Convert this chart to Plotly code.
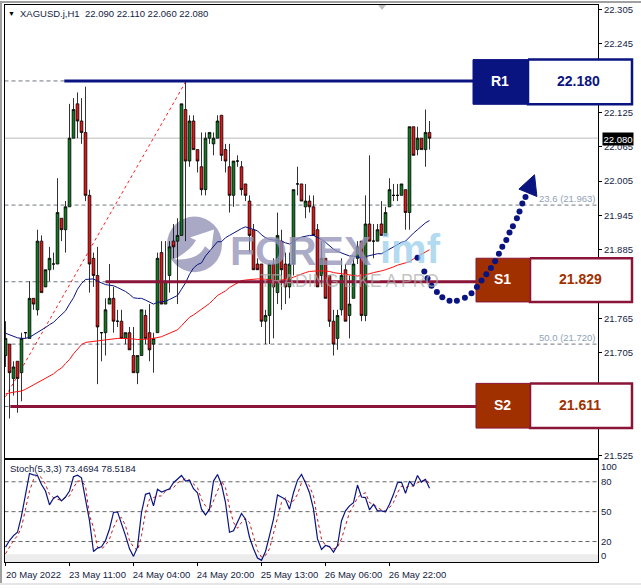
#! /usr/bin/env python
"""XAGUSD H1 chart with stochastic panel and support / resistance boxes."""

import plotly.graph_objects as go

W = 641
H = 588

# Candles, one per hour bar
opens = [21.70,21.72,21.66,21.69,21.67,21.74,21.73,21.80,21.78,21.90,
         21.82,21.85,21.86,21.86,21.94,21.92,21.96,22.08,22.14,22.11,
         22.09,21.98,21.87,21.84,21.74,21.74,21.79,21.80,21.76,21.76,
         21.73,21.74,21.70,21.67,21.70,21.77,21.74,21.72,21.74,21.88,
         21.79,21.84,21.90,21.90,21.91,22.13,22.04,22.11,22.06,22.03,
         21.99,22.08,22.07,22.08,22.12,22.06,22.03,21.98,22.04,22.03,
         22.00,21.97,21.92,21.86,21.86,21.76,21.77,21.86,21.81,21.90,
         21.86,21.82,21.86,22.00,22.00,21.96,21.97,21.96,21.92,21.84,
         21.87,21.84,21.76,21.73,21.78,21.85,21.77,21.80,21.87,21.90,
         21.77,21.93,21.90,21.90,21.93,21.91,21.96,21.98,21.98,21.98,
         21.99,21.95,22.10,22.06,22.08,22.06,22.09]
highs = [21.76,21.72,21.69,21.69,21.74,21.74,21.83,21.80,21.92,21.91,
         21.85,21.89,21.88,22.01,21.94,21.97,22.14,22.15,22.16,22.15,
         22.17,21.99,21.88,21.89,21.74,21.80,21.86,21.82,21.78,21.78,
         21.74,21.75,21.75,21.70,21.78,21.78,21.79,21.74,21.88,21.90,
         21.90,21.90,21.93,21.94,22.14,22.18,22.12,22.12,22.06,22.09,
         22.09,22.09,22.09,22.12,22.12,22.07,22.07,22.04,22.05,22.04,
         22.00,21.98,21.93,21.87,21.86,21.78,21.86,21.87,21.95,21.92,
         21.88,21.88,21.99,22.03,22.00,22.00,21.98,21.98,21.93,21.90,
         21.87,21.84,21.78,21.78,21.87,21.86,21.84,21.87,21.90,21.90,
         21.98,22.05,21.93,21.93,21.97,21.96,22.01,22.00,22.00,22.00,
         21.99,22.10,22.10,22.10,22.08,22.13,22.11]
lows = [21.68,21.59,21.63,21.60,21.62,21.73,21.73,21.78,21.77,21.81,
        21.82,21.83,21.85,21.86,21.90,21.88,21.96,22.08,22.08,22.07,
        21.97,21.81,21.82,21.65,21.69,21.70,21.79,21.74,21.75,21.73,
        21.72,21.71,21.67,21.65,21.70,21.72,21.69,21.67,21.74,21.79,
        21.79,21.81,21.87,21.79,21.91,21.90,22.03,22.06,22.02,21.98,
        21.98,22.07,22.05,22.08,22.04,22.02,21.95,21.96,22.03,21.98,
        21.97,21.88,21.85,21.85,21.75,21.72,21.72,21.73,21.79,21.78,
        21.79,21.80,21.84,21.98,21.97,21.94,21.95,21.91,21.82,21.82,
        21.80,21.75,21.70,21.71,21.77,21.76,21.73,21.80,21.86,21.76,
        21.76,21.90,21.87,21.90,21.91,21.91,21.96,21.97,21.97,21.98,
        21.92,21.92,22.05,22.05,22.06,22.03,22.06]
closes = [21.73,21.67,21.68,21.66,21.73,21.74,21.80,21.79,21.90,21.81,
          21.85,21.87,21.86,21.95,21.92,21.96,22.08,22.13,22.11,22.09,
          21.98,21.86,21.84,21.75,21.74,21.78,21.80,21.76,21.76,21.73,
          21.74,21.71,21.67,21.70,21.78,21.73,21.71,21.73,21.87,21.79,
          21.83,21.89,21.89,21.91,22.14,22.04,22.11,22.06,22.04,21.99,
          22.08,22.09,22.08,22.11,22.05,22.04,21.98,22.04,22.04,21.99,
          21.98,21.91,21.85,21.85,21.76,21.77,21.86,21.82,21.91,21.85,
          21.82,21.86,21.99,22.00,21.97,21.97,21.96,21.91,21.82,21.87,
          21.80,21.76,21.72,21.77,21.84,21.76,21.79,21.86,21.89,21.77,
          21.93,21.90,21.90,21.92,21.91,21.95,21.99,21.98,21.98,22.00,
          21.95,22.10,22.05,22.08,22.06,22.09,22.08]

# Moving averages
ma_blue = [21.739,21.736,21.733,21.731,21.730,21.730,21.732,21.736,21.741,21.745,
           21.749,21.754,21.758,21.765,21.771,21.778,21.790,21.801,21.816,21.826,
           21.833,21.834,21.834,21.830,21.827,21.824,21.823,21.822,21.819,21.816,
           21.812,21.807,21.801,21.800,21.800,21.797,21.793,21.790,21.793,21.794,
           21.795,21.798,21.801,21.805,21.816,21.827,21.842,21.853,21.859,21.862,
           21.874,21.882,21.891,21.899,
           21.899,21.906,21.910,21.914,21.919,21.922,21.925,21.923,21.921,21.918,
           21.911,21.906,21.903,21.902,21.902,21.900,21.897,21.895,21.899,21.904,
           21.907,21.909,21.910,21.910,21.907,21.903,21.898,21.892,21.886,21.882,
           21.879,21.877,21.874,21.874,21.873,21.871,21.873,21.875,21.877,21.878,
           21.878,21.882,21.886,21.891,21.895,21.898,21.900,21.908,21.914,21.920,
           21.926,21.932,21.936]
ma_red = [21.633,21.635,21.636,21.637,21.638,21.641,21.645,21.649,21.653,21.656,
          21.660,21.664,21.668,21.674,21.678,21.686,21.693,21.703,21.712,21.719,
          21.723,21.724,21.725,21.725,21.727,21.728,21.729,21.730,21.730,21.730,
          21.730,21.730,21.729,21.728,21.728,21.728,21.729,21.730,21.731,21.733,
          21.736,21.739,21.742,21.745,21.752,21.759,21.767,21.771,21.776,21.781,
          21.786,21.791,21.798,21.805,
          21.809,21.813,21.819,21.823,21.827,21.831,21.832,21.833,21.833,21.834,
          21.834,21.833,21.833,21.832,21.831,21.832,21.833,21.834,21.837,21.840,
          21.843,21.845,21.847,21.848,21.848,21.848,21.848,21.847,21.845,21.844,
          21.842,21.841,21.840,21.839,21.839,21.840,21.841,21.843,21.845,21.846,
          21.848,21.850,21.852,21.855,21.858,21.860,21.862,21.864,21.869,21.873,
          21.878,21.882,21.885]

# Stochastic (5,3,3)
stoch_main = [14.4,21.0,25.9,29.3,45.8,69.0,88.3,87.0,86.3,77.3,
              70.7,56.8,63.4,65.7,60.8,64.7,70.7,85.0,86.6,84.0,
              64.1,40.9,10.0,13.4,14.7,21.0,32.6,49.2,49.8,38.6,
              25.9,12.7,5.1,14.4,49.2,67.4,68.7,55.8,72.4,69.7,
              71.4,73.0,79.0,83.0,86.3,80.7,81.6,73.0,69.0,52.5,
              46.8,52.5,80.7,87.3,77.3,59.1,29.3,30.9,39.2,48.2,
              42.5,24.3,12.7,3.4,1.1,10.0,25.9,42.5,66.7,64.7,
              62.4,52.5,69.0,81.6,87.3,79.0,69.0,52.5,22.6,
              12.0,16.0,15.0,9.4,16.0,40.9,50.8,55.8,59.1,76.7,
              64.7,64.1,51.8,57.4,50.8,50.8,49.8,57.4,67.4,79.0,
              79.7,68.4,80.7,75.7,86.3,79.7,82.3,73.47]
stoch_signal = [7.7,14.4,21.0,25.9,34.2,52.5,70.7,82.3,87.3,84.0,
                77.3,67.4,64.1,62.4,61.4,64.1,65.7,74.0,80.7,80.7,
                75.7,45.8,34.2,14.4,12.7,16.0,22.6,34.2,42.5,44.2,
                35.9,21.0,14.4,11.0,25.9,49.2,62.4,64.1,65.7,65.7,
                70.7,72.4,74.0,79.0,80.7,83.0,81.6,77.3,74.0,62.4,
                55.8,50.8,60.8,72.4,80.7,74.0,54.1,39.2,33.3,39.2,
                43.2,39.2,24.3,11.0,4.4,6.1,12.7,27.6,44.2,59.1,
                64.1,59.1,60.8,67.4,79.0,80.7,75.7,65.7,42.5,
                22.6,16.0,14.4,12.7,14.4,22.6,35.9,49.2,55.8,64.1,
                67.4,69.0,59.1,57.4,54.1,51.8,50.8,54.1,59.1,69.0,
                75.7,74.0,75.7,75.7,79.0,80.7,82.3,78.52]

# Fibonacci levels and drawn levels
fibo_levels = [22.180, 21.963, 21.829, 21.720, 21.611]
fibo_labels = ["23.6 (21.963)", "50.0 (21.720)"]
last_price = 22.080
trend_x = [0, 45]
trend_y = [21.628, 22.178]

r1 = 22.180
s1 = 21.829
s2 = 21.611

# Dotted forecast arrow
arrow_x = [103.0,104.7,105.5,106.5,107.85,109.2,111.0,112.85,114.85,116.5,117.85,119.0,
           120.2,121.35,122.4,123.35,124.2,125.2,126.0,126.85,127.85,128.5,129.2,130.0]
arrow_y = [21.871,21.847,21.835,21.822,21.811,21.802,21.796,21.796,21.801,21.809,21.820,21.831,
           21.842,21.853,21.865,21.878,21.890,21.902,21.915,21.926,21.940,21.952,21.966,21.977]
head_x = [132.25,128.35,132.85,132.25]
head_y = [22.016,21.991,21.978,22.016]

# Axis ticks
price_ticks = [22.305,22.245,22.185,22.125,22.065,22.005,21.945,21.885,21.825,21.765,21.705,21.645,21.585,21.525]
price_labels = ["22.305","22.245","22.185","22.125","22.065","22.005","21.945","21.885","21.825","21.765","21.705","21.645","21.585","21.525"]
stoch_tick_pos = [95, 80, 50, 20, 6]
stoch_tick_labels = ["100", "80", "50", "20", "0"]
stoch_levels = [80, 50, 20]
time_ticks = [0, 16, 32, 48, 64, 80, 96]
time_labels = ["20 May 2022", "23 May 11:00", "24 May 04:00", "24 May 20:00", "25 May 13:00", "26 May 06:00", "26 May 22:00"]

bars = list(range(len(closes)))

FONT = "Liberation Sans"
NAVY = "#0a1480"
CRIMSON = "#8a1538"
RUST = "#a03000"
TEXT = "#14233f"

# bar 0 sits on pixel column 5.5 and bars are 4 px apart, price scale is 576 px per unit
X0 = 5.5
BAR = 4.0
PRICE_TOP = 22.305
TOP_Y = 8.5
PX_PER_UNIT = 576.0


def px(x):
    return x / W


def py(y):
    return 1 - y / H


def bar_at(x):
    return (x - X0) / BAR


def price_at(y):
    return PRICE_TOP - (y - TOP_Y) / PX_PER_UNIT


fig = go.Figure()

fig.add_trace(go.Candlestick(x=bars, open=opens, high=highs, low=lows, close=closes,
                             increasing=dict(fillcolor="#0c7a1c", line=dict(color="black", width=0.8)),
                             decreasing=dict(fillcolor="#ee1010", line=dict(color="black", width=0.8)),
                             whiskerwidth=0, xaxis="x", yaxis="y"))
fig.add_trace(go.Scatter(x=bars, y=ma_blue, mode="lines", line=dict(color="#0a1480", width=1), xaxis="x", yaxis="y"))
fig.add_trace(go.Scatter(x=bars, y=ma_red, mode="lines", line=dict(color="#ff1010", width=1), xaxis="x", yaxis="y"))

# drawn levels
fig.add_trace(go.Scatter(x=[14.7, 117], y=[r1, r1], mode="lines", line=dict(color=NAVY, width=3), xaxis="x", yaxis="y"))
fig.add_trace(go.Scatter(x=[25, 119], y=[s1, s1], mode="lines", line=dict(color=CRIMSON, width=3), xaxis="x", yaxis="y"))
fig.add_trace(go.Scatter(x=[1.2, 119], y=[s2, s2], mode="lines", line=dict(color=CRIMSON, width=3), xaxis="x", yaxis="y"))

fig.add_trace(go.Scatter(x=bars, y=stoch_signal, mode="lines", line=dict(color="#c01818", width=1, dash="dot"), xaxis="x2", yaxis="y2"))
fig.add_trace(go.Scatter(x=bars, y=stoch_main, mode="lines", line=dict(color="#0a1480", width=1.2), xaxis="x2", yaxis="y2"))

# level boxes go on a full page subplot so the arrow can pass over them
boxes = [(473, 528, 59, 104, NAVY, NAVY), (476, 530, 259, 303, RUST, CRIMSON), (476, 530, 385, 430, RUST, CRIMSON)]
for x0, x1, y0, y1, fill, edge in boxes:
    for a, b, color, width in [(x1, 632, "white", 2.5), (x0, x1, fill, 1)]:
        fig.add_trace(go.Scatter(x=[bar_at(a), bar_at(b), bar_at(b), bar_at(a), bar_at(a)],
                                 y=[price_at(y0), price_at(y0), price_at(y1), price_at(y1), price_at(y0)],
                                 mode="lines", fill="toself", fillcolor=color, line=dict(color=edge, width=width),
                                 xaxis="x3", yaxis="y3"))

fig.add_trace(go.Scatter(x=arrow_x, y=arrow_y, mode="markers", marker=dict(color=NAVY, size=6, symbol="circle"), xaxis="x3", yaxis="y3"))
fig.add_trace(go.Scatter(x=head_x, y=head_y, mode="lines", fill="toself", fillcolor=NAVY, line=dict(color=NAVY, width=1), xaxis="x3", yaxis="y3"))

dash_style = "4px,3px"
shapes = []
# reference lines sit under the candles
for level in fibo_levels:
    shapes.append(dict(type="line", xref="x domain", yref="y", x0=0, x1=1, y0=level, y1=level, layer="below",
                       line=dict(color="#6f7780", width=1, dash=dash_style)))
shapes.append(dict(type="line", xref="x domain", yref="y", x0=0, x1=1, y0=last_price, y1=last_price, layer="below",
                   line=dict(color="#bdbdbd", width=1)))
shapes.append(dict(type="line", xref="x", yref="y", x0=trend_x[0], x1=trend_x[1], y0=trend_y[0], y1=trend_y[1], layer="below",
                   line=dict(color="#ff2020", width=1, dash="dot")))
for level in stoch_levels:
    shapes.append(dict(type="line", xref="x2 domain", yref="y2", x0=0, x1=1, y0=level, y1=level, layer="below",
                       line=dict(color="#666666", width=1, dash=dash_style)))
shapes.append(dict(type="rect", xref="x2 domain", yref="paper", x0=0, x1=1, y0=py(565), y1=py(557), layer="below",
                   fillcolor="#ececec", line=dict(width=0)))

# watermark logo
shapes.append(dict(type="circle", xref="paper", yref="paper", x0=px(167), x1=px(222), y0=py(273), y1=py(217), layer="below",
                   fillcolor="#a9a9c6", line=dict(width=0)))
shapes.append(dict(type="path", xref="paper", yref="paper", layer="below", fillcolor="white", line=dict(width=0),
                   path=f"M {px(174)} {py(260)} Q {px(190)} {py(252)} {px(196)} {py(241)} L {px(190)} {py(238)} L {px(214)} {py(230)} "
                        f"L {px(211)} {py(252)} L {px(205)} {py(247)} Q {px(198)} {py(262)} {px(174)} {py(260)} Z"))

# outer window frame
shapes.append(dict(type="rect", xref="paper", yref="paper", x0=0, x1=1, y0=py(2), y1=1, fillcolor="#a0a0a0", line=dict(width=0)))
shapes.append(dict(type="rect", xref="paper", yref="paper", x0=0, x1=px(2), y0=0, y1=1, fillcolor="#a0a0a0", line=dict(width=0)))
shapes.append(dict(type="rect", xref="paper", yref="paper", x0=0, x1=1, y0=0, y1=py(586), fillcolor="#e6e6e6", line=dict(width=0)))
shapes.append(dict(type="path", xref="paper", yref="paper", fillcolor="#c0c0c0", line=dict(width=0),
                   path=f"M {px(378)} {py(4)} L {px(386)} {py(4)} L {px(382)} {py(9)} Z"))

annotations = []


def note(x, y, text, size=9.5, color=TEXT, bold=False, anchor="center", family=FONT, **kw):
    label = f"<b>{text}</b>" if bold else text
    annotations.append(dict(x=px(x), y=py(y), xref="paper", yref="paper", text=label, showarrow=False, xanchor=anchor,
                            yanchor="middle", font=dict(family=family, size=size, color=color), **kw))


# watermark text
note(228, 252, "FOREX", size=41, color="rgba(150,150,185,0.78)", bold=True, anchor="left")
note(378, 250, "imf", size=40, color="rgba(150,205,235,0.72)", bold=True, anchor="left")
note(258, 282, "TRADING LIKE A PRO", size=17.5, color="rgba(170,170,170,0.7)", anchor="left")

note(11, 13, "▼", size=7, color="black")
note(18, 13, "XAGUSD.j,H1&nbsp;&nbsp;22.090 22.110 22.060 22.080", anchor="left")
note(7.5, 471, "Stoch(5,3,3) 73.4694 78.5184", anchor="left")
for label, y in zip(fibo_labels, [199, 339]):
    note(598, y, label, color="#90a2b8", anchor="right")

note(500, 81, "R1", size=14, color="white", bold=True)
note(578, 81, f"{r1:.3f}", size=14, color=NAVY, bold=True)
note(502, 280, "S1", size=14, color="white", bold=True)
note(580, 280, f"{s1:.3f}", size=14, color=RUST, bold=True)
note(502, 407, "S2", size=14, color="white", bold=True)
note(580, 407, f"{s2:.3f}", size=14, color=RUST, bold=True)

note(618, 138.5, f"{last_price:.3f}", color="white", bgcolor="black", borderpad=0.5)

axis_line = dict(showline=True, linecolor="black", linewidth=1, mirror=True, showgrid=False, zeroline=False)
tick_font = dict(family=FONT, size=9.5, color=TEXT)

fig.update_layout(
    width=W, height=H, margin=dict(l=0, r=0, t=0, b=0), autosize=False,
    paper_bgcolor="white", plot_bgcolor="rgba(0,0,0,0)", showlegend=False, boxgap=0.05,
    shapes=shapes, annotations=annotations, hovermode=False,
    xaxis=dict(domain=[px(4.5), px(598)], range=[bar_at(4.5), bar_at(598)], anchor="y", showticklabels=False, ticks="",
               rangeslider=dict(visible=False), **axis_line),
    yaxis=dict(domain=[py(460), py(4)], range=[price_at(460), price_at(4)], side="right", anchor="x",
               tickvals=price_ticks, ticktext=price_labels, ticks="outside", ticklen=3, tickcolor="black",
               tickfont=tick_font, **axis_line),
    xaxis2=dict(domain=[px(4.5), px(598)], matches="x", anchor="y2", tickvals=time_ticks, ticktext=time_labels,
                ticks="outside", ticklen=3, tickcolor="black", tickfont=tick_font, ticklabelshift=28,
                rangeslider=dict(visible=False), **axis_line),
    yaxis2=dict(domain=[py(565), py(462.5)], range=[-0.7, 101.5], side="right", anchor="x2",
                tickvals=stoch_tick_pos, ticktext=stoch_tick_labels, ticks="", tickfont=tick_font, **axis_line),
    xaxis3=dict(domain=[0, 1], range=[bar_at(0), bar_at(W)], anchor="y3", visible=False),
    yaxis3=dict(domain=[0, 1], range=[price_at(H), price_at(0)], anchor="x3", visible=False),
)

fig.write_html("out.html", config=dict(displayModeBar=False),
               post_script="document.body.style.margin='0';document.body.style.overflow='hidden';")
